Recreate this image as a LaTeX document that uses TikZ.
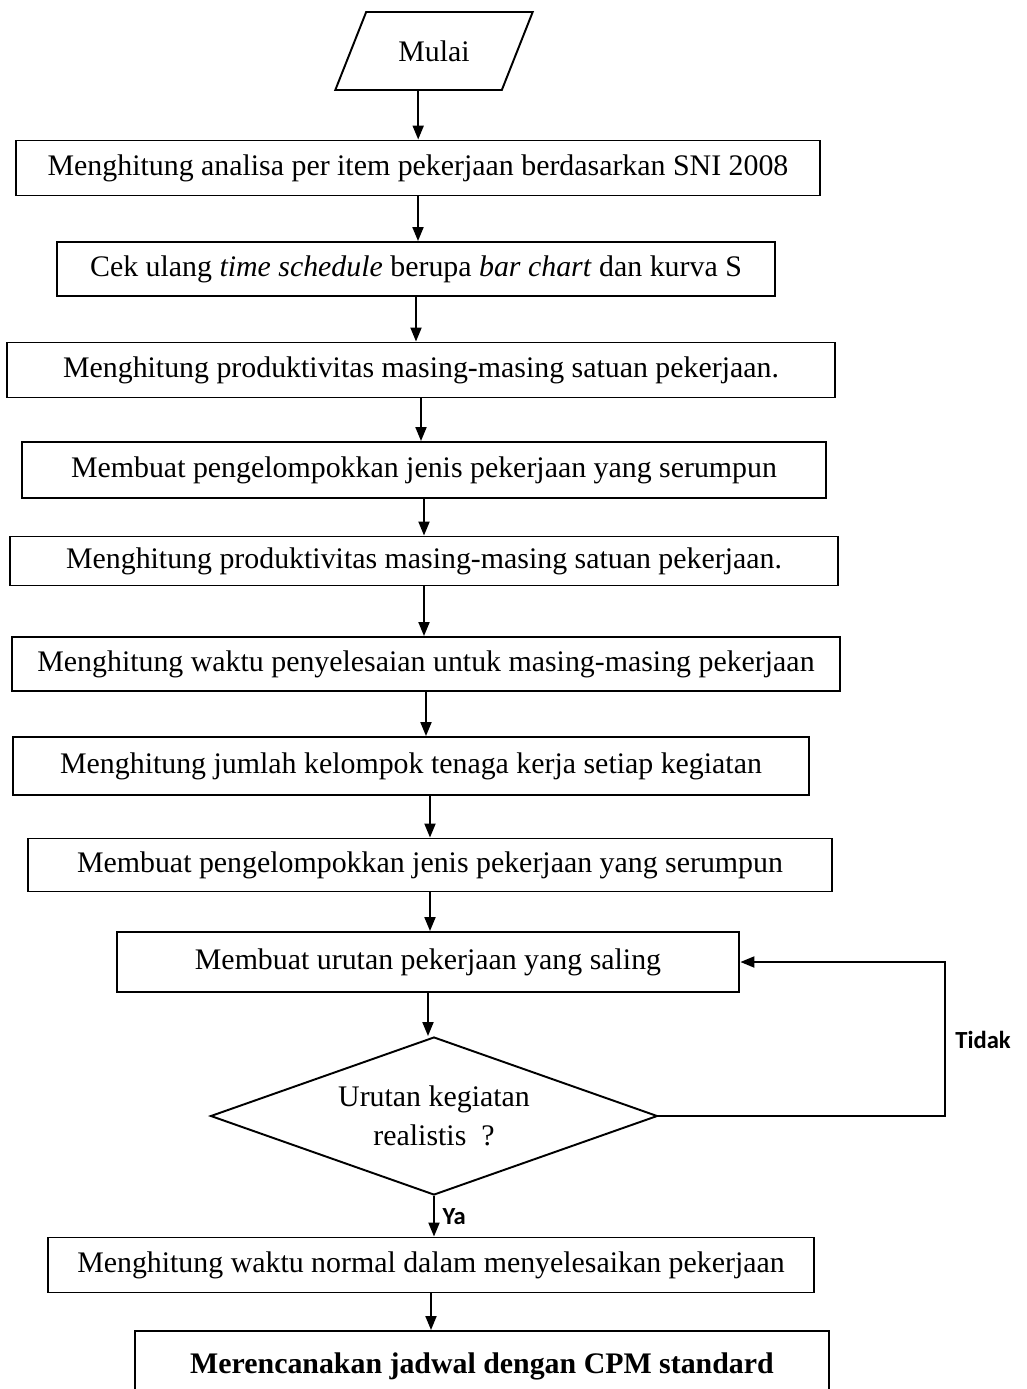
\documentclass[tikz,border=0pt]{standalone}
\usepackage{fontspec}
\setmainfont{Liberation Serif}
\newfontfamily\labelfont{Carlito}
\usetikzlibrary{arrows.meta,shapes.geometric}

\begin{document}
\begin{tikzpicture}[x=0.02cm,y=-0.02cm,>={Triangle[length=0.28cm,width=0.22cm]},line width=1.1pt, every node/.style={font=\fontsize{17}{22}\selectfont}]
\tikzstyle{kotak}=[draw, minimum height=1.1cm, inner sep=2pt, align=center]
\tikzstyle{ket}=[font=\labelfont\bfseries\fontsize{14}{16}\selectfont]
\useasboundingbox (0,0) rectangle (1027,1389);
\node[draw, trapezium, trapezium left angle=60, trapezium right angle=120, trapezium stretches=true, minimum width=3.96cm, minimum height=1.56cm] (mulai) at (434,51) {Mulai};
\node[kotak, minimum width=16.1cm] (b1) at (418,168) {Menghitung analisa per item pekerjaan berdasarkan SNI 2008};
\node[kotak, minimum width=14.36cm, minimum height=1.08cm] (b2) at (416,269) {Cek ulang \textit{time schedule} berupa \textit{bar chart} dan kurva S};
\node[kotak, minimum width=16.56cm] (b3) at (421,370) {Menghitung produktivitas masing-masing satuan pekerjaan.};
\node[kotak, minimum width=16.08cm, minimum height=1.12cm] (b4) at (424,470) {Membuat pengelompokkan jenis pekerjaan yang serumpun};
\node[kotak, minimum width=16.56cm, minimum height=0.98cm] (b5) at (424,561) {Menghitung produktivitas masing-masing satuan pekerjaan.};
\node[kotak, minimum width=16.56cm, minimum height=1.08cm] (b6) at (426,664) {Menghitung waktu penyelesaian untuk masing-masing pekerjaan};
\node[kotak, minimum width=15.94cm, minimum height=1.16cm] (b7) at (411,766) {Menghitung jumlah kelompok tenaga kerja setiap kegiatan};
\node[kotak, minimum width=16.08cm, minimum height=1.06cm] (b8) at (430,865) {Membuat pengelompokkan jenis pekerjaan yang serumpun};
\node[kotak, minimum width=12.46cm, minimum height=1.2cm] (b9) at (428,962) {Membuat urutan pekerjaan yang saling};
\node[draw, diamond, aspect=2.83, minimum width=8.94cm, minimum height=3.16cm, inner sep=0pt, align=center] (cek) at (434,1116) {Urutan kegiatan\\realistis\ \ ?};
\node[kotak, minimum width=15.34cm] (b10) at (431,1265) {Menghitung waktu normal dalam menyelesaikan pekerjaan};
\node[kotak, minimum width=13.9cm, minimum height=1.4cm, anchor=north] (b11) at (482,1330) {\textbf{Merencanakan jadwal dengan CPM standard}};
\coordinate (balik) at (945,1116);
\draw[->] (mulai.bottom side) -- (mulai.bottom side |- b1.north);
\draw[->] (b1) -- (b1 |- b2.north); \draw[->] (b2) -- (b2 |- b3.north);
\draw[->] (b3) -- (b3 |- b4.north); \draw[->] (b4) -- (b4 |- b5.north);
\draw[->] (b5) -- (b5 |- b6.north); \draw[->] (b6) -- (b6 |- b7.north);
\draw[->] (b8 |- b7.south) -- (b8); \draw[->] (b8) -- (b8 |- b9.north);
\draw[->] (b9) -- (b9 |- cek.north);
\draw[->] (cek) -- node[ket, pos=0.52, right=1pt]{Ya} (cek |- b10.north);
\draw[->] (b10) -- (b10 |- b11.north);
\draw[->] (cek.east) -- (balik) |- (b9.east);
\node[ket] (tidak) at (983,1040) {Tidak};
\end{tikzpicture}
\end{document}
